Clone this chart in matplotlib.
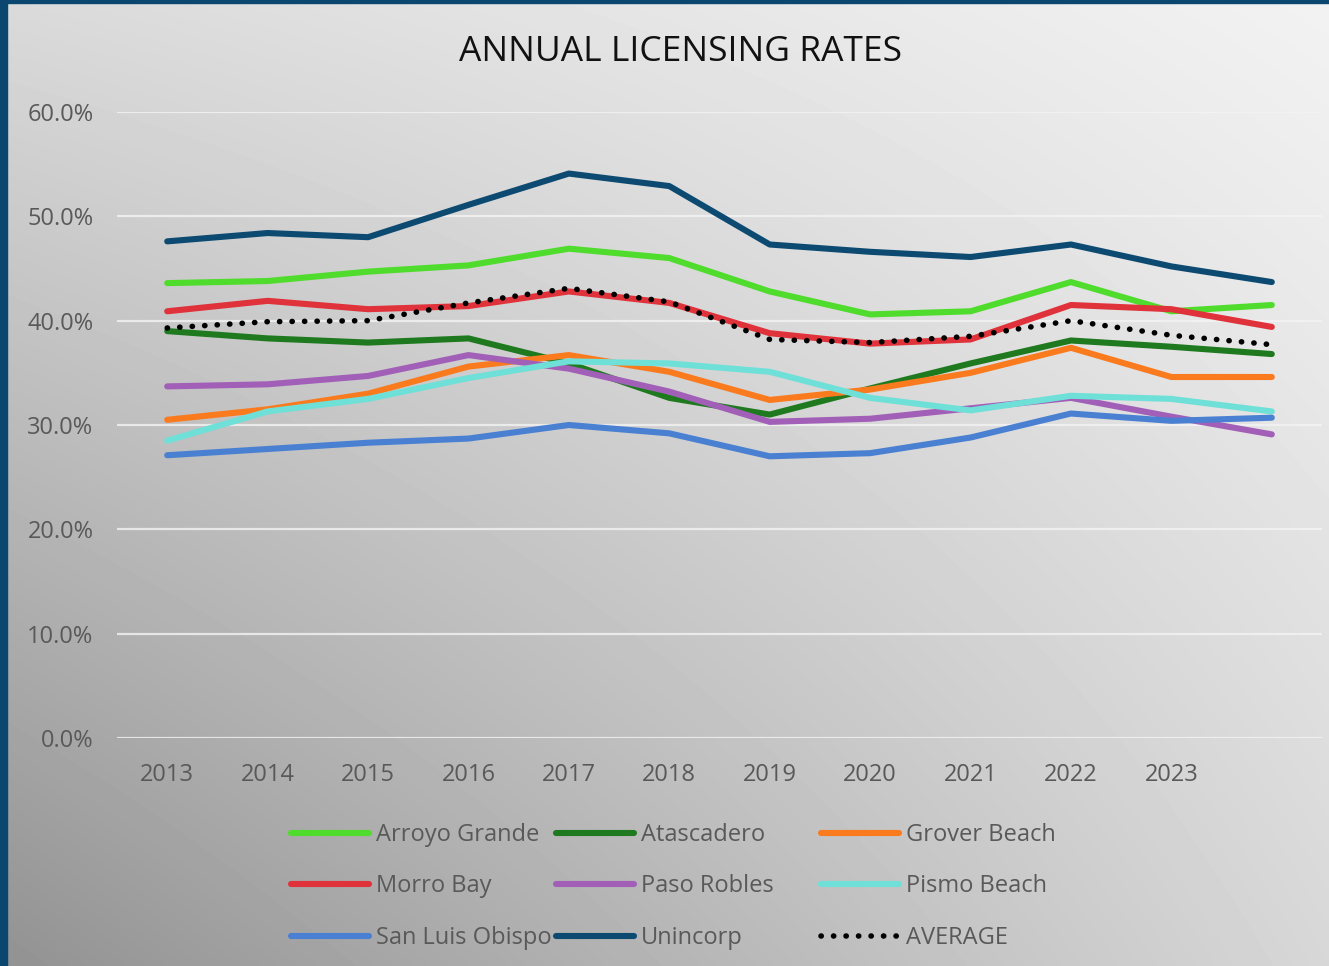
import numpy as np
import matplotlib
matplotlib.use("Agg")
import matplotlib.pyplot as plt
from matplotlib.lines import Line2D

plt.rcParams['font.family'] = ['Open Sans', 'DejaVu Sans']

# x categories: 11 labelled years plus one trailing unlabelled point
year_labels = ['2013', '2014', '2015', '2016', '2017', '2018',
               '2019', '2020', '2021', '2022', '2023', '']

arroyo_grande = [43.6, 43.8, 44.7, 45.3, 46.9, 46.0, 42.8, 40.6, 40.9, 43.7, 40.9, 41.5]
atascadero    = [39.0, 38.3, 37.9, 38.3, 35.9, 32.6, 31.0, 33.5, 35.9, 38.1, 37.5, 36.8]
grover_beach  = [30.5, 31.5, 33.0, 35.6, 36.7, 35.1, 32.4, 33.4, 35.0, 37.4, 34.6, 34.6]
morro_bay     = [40.9, 41.9, 41.1, 41.4, 42.8, 41.7, 38.8, 37.8, 38.2, 41.5, 41.1, 39.4]
paso_robles   = [33.7, 33.9, 34.7, 36.7, 35.4, 33.2, 30.3, 30.6, 31.6, 32.6, 30.8, 29.1]
pismo_beach   = [28.5, 31.3, 32.5, 34.5, 36.1, 35.9, 35.1, 32.6, 31.4, 32.8, 32.5, 31.3]
san_luis      = [27.1, 27.7, 28.3, 28.7, 30.0, 29.2, 27.0, 27.3, 28.8, 31.1, 30.4, 30.7]
unincorp      = [47.6, 48.4, 48.0, 51.1, 54.1, 52.9, 47.3, 46.6, 46.1, 47.3, 45.2, 43.7]
average       = [39.3, 39.9, 40.0, 41.7, 43.1, 41.8, 38.2, 37.9, 38.5, 40.0, 38.6, 37.7]

series = [
    ('Arroyo Grande', arroyo_grande, '#4fdc2c'),
    ('Atascadero', atascadero, '#1f7a1f'),
    ('Grover Beach', grover_beach, '#fa7a1e'),
    ('Morro Bay', morro_bay, '#e0323a'),
    ('Paso Robles', paso_robles, '#a25fb8'),
    ('Pismo Beach', pismo_beach, '#6fe0d8'),
    ('San Luis Obispo', san_luis, '#4a80d2'),
    ('Unincorp', unincorp, '#0d4a72'),
]

W, H = 1329, 966
fig = plt.figure(figsize=(W / 100, H / 100), dpi=100)

# gradient background (dark bottom-left, light top-right)
bg = fig.add_axes([0, 0, 1, 1], zorder=-10)
gx, gy = np.meshgrid(np.linspace(0, 1, 300), np.linspace(0, 1, 300))
shade = (146 + 69 * gx + 72 * gy - 45 * gx * gy) / 255.0
bg.imshow(shade, cmap='gray', vmin=0, vmax=1, origin='lower',
          extent=[0, 1, 0, 1], aspect='auto', interpolation='bilinear')
bg.set_xlim(0, 1)
bg.set_ylim(0, 1)
bg.axis('off')
# dark blue frame on left and top
bg.add_patch(plt.Rectangle((0, 0), 7 / W, 1, color='#0b4670', zorder=5))
bg.add_patch(plt.Rectangle((0, 1 - 3 / H), 1, 3 / H, color='#0b4670', zorder=5))

ax = fig.add_axes([117 / W, 228 / H, (1322 - 117) / W, (738 - 112) / H])
ax.patch.set_alpha(0)
x = np.arange(len(year_labels))

for name, vals, col in series:
    ax.plot(x, vals, color=col, lw=4.4, solid_capstyle='round', label=name)
ax.plot(x, average, color='black', lw=4.0, linestyle=(0, (0.05, 2.2)),
        dash_capstyle='round', label='AVERAGE')

ax.set_xlim(-0.5, len(year_labels) - 0.5)
ax.set_ylim(0, 60)
ax.set_yticks(np.arange(0, 61, 10))
ax.set_yticklabels(['%.1f%%' % v for v in np.arange(0, 61, 10)])
ax.set_xticks(x)
ax.set_xticklabels(year_labels)
ax.tick_params(length=0, labelsize=17, labelcolor='#595959')
ax.tick_params(axis='y', pad=17)
ax.tick_params(axis='x', pad=18)
ax.grid(axis='y', color='#f4f4f4', lw=1.6, alpha=0.8)
ax.set_axisbelow(True)
for s in ax.spines.values():
    s.set_visible(False)

fig.text(680 / W, 1 - 52 / H, 'ANNUAL LICENSING RATES', ha='center', va='center',
         fontsize=25.5, color='#111111')

# legend: three fixed-width columns like the original
handles = {name: Line2D([], [], color=col, lw=4.4, solid_capstyle='round')
           for name, vals, col in series}
handles['AVERAGE'] = Line2D([], [], color='black', lw=4.0,
                            linestyle=(0, (0.05, 2.2)), dash_capstyle='round')
columns = [['Arroyo Grande', 'Morro Bay', 'San Luis Obispo'],
           ['Atascadero', 'Paso Robles', 'Unincorp'],
           ['Grover Beach', 'Pismo Beach', 'AVERAGE']]
col_x = [291, 556, 821]
for cx, names in zip(col_x, columns):
    leg = fig.legend([handles[n] for n in names], names,
                     loc='upper left', bbox_to_anchor=(cx / W, 1 - 823 / H),
                     frameon=False, fontsize=17, handlelength=3.3,
                     handletextpad=0.3, labelspacing=1.16, borderpad=0,
                     borderaxespad=0)
    for t in leg.get_texts():
        t.set_color('#595959')

fig.savefig('out.png', dpi=100)
